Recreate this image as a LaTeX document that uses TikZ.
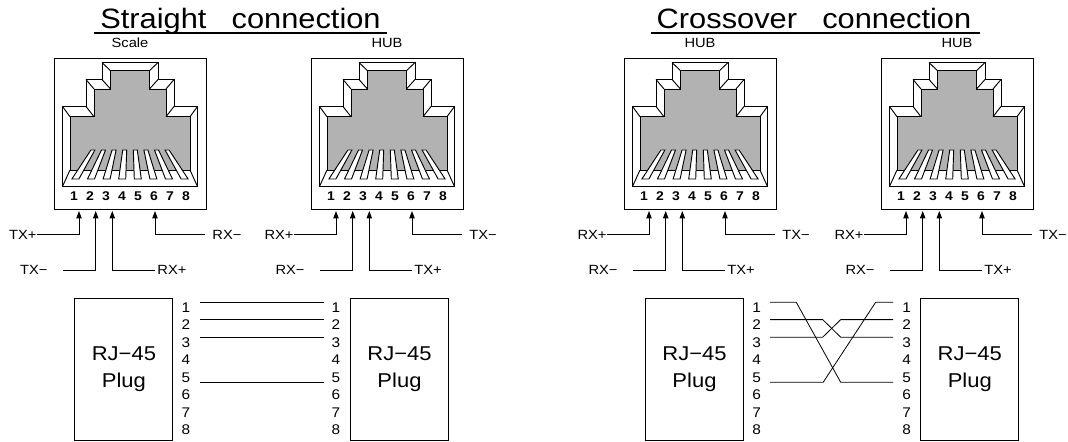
\documentclass[tikz,border=0pt]{standalone}
\usepackage{fontspec}
\setmainfont{Liberation Sans}[FakeStretch=1.1]
\usetikzlibrary{arrows.meta,positioning,calc}
\tikzset{>=latex}

\begin{document}
\begin{tikzpicture}[x=0.75pt,y=-0.75pt,line width=0.7pt,
    tag/.style={inner sep=0,font=\fontsize{10}{11}\selectfont},
    pinno/.style={inner sep=0,anchor=base,font=\fontsize{9.5}{11}\selectfont\bfseries},
    plugno/.style={inner sep=0,anchor=base,font=\fontsize{10.5}{12}\selectfont},
    plug/.style={draw,minimum width=73.5pt,minimum height=106.5pt,align=center,inner sep=0,font=\fontsize{15}{19.7}\selectfont},
    ttl/.style={inner sep=0,anchor=base,font=\fontsize{21}{24}\selectfont},
    uline/.style={line width=1.5pt},
    pinwire/.style={-{Triangle[length=5.5pt,width=4pt]}},
    wire/.style={line width=0.6pt}]
  \useasboundingbox (0,0) rectangle (1068,442);

  % titles
  \node[ttl] (ttlS) at (240.5,28.3) {Straight\hspace{0.9em}connection};
  \draw[uline] ($(ttlS.base west)+(-6,5)$) -- ($(ttlS.base east)+(6,5)$);
  \node[ttl] (ttlC) at (814,28.3) {Crossover\hspace{0.9em}connection};
  \draw[uline] ($(ttlC.base west)+(-5,5)$) -- ($(ttlC.base east)+(8,5)$);

  % jacks
  \foreach \jx/\jn/\pa/\pb/\pc/\pd in {54/Scale/TX+/TX−/RX+/RX−, 311/HUB/RX+/RX−/TX+/TX−,
      624/HUB/RX+/RX−/TX+/TX−, 881/HUB/RX+/RX−/TX+/TX−} {
    \begin{scope}[shift={(\jx,58)}]
      \node[tag] (top) at (76,-15.5) {\jn};
      \draw (0,0) rectangle (152,151);
      \draw[fill=white] (8.5,128.5) -- (8.5,48.5) -- (32,48.5) -- (32,21.5) -- (48,21.5) -- (48,4.5)
        -- (104,4.5) -- (104,21.5) -- (120,21.5) -- (120,48.5) -- (143.5,48.5) -- (143.5,128.5) -- cycle;
      \draw[fill=black!30] (16,112) -- (16,58.7) -- (40,58.7) -- (40,31) -- (56.5,31) -- (56.5,12.7)
        -- (95.5,12.7) -- (95.5,31) -- (112,31) -- (112,58.7) -- (136,58.7) -- (136,112) -- cycle;
      \draw (8.5,48.5) -- (16,58.7) (32,48.5) -- (40,58.7) (32,21.5) -- (40,31)
        (48,21.5) -- (56.5,31) (48,4.5) -- (56.5,12.7) (104,4.5) -- (95.5,12.7)
        (104,21.5) -- (95.5,31) (120,21.5) -- (112,31) (120,48.5) -- (112,58.7)
        (143.5,48.5) -- (136,58.7) (16,112) -- (8.5,128.5) (136,112) -- (143.5,128.5);
      \foreach \i in {1,...,8} {
        \pgfmathsetmacro\ct{76+(\i-4.5)*10.6}
        \pgfmathsetmacro\cb{76+(\i-4.5)*15.6}
        \draw[fill=white] ({\ct-2},92) -- ({\ct+2},92) -- ({\cb+3.5},121) -- ({\cb-3.5},121) -- cycle;
        \node[pinno] (n\i) at ({76+(\i-4.5)*16},143) {\i};
      }
      \coordinate (p1) at (25,153);
      \coordinate (p2) at (41.7,153);
      \coordinate (p3) at (58.3,153);
      \coordinate (p6) at (101,153);
      \node[tag,anchor=east] (w1) at (-17,176.5) {\pa};
      \node[tag,anchor=east] (w2) at (-6,212) {\pb};
      \node[tag,anchor=west] (w3) at (103,212) {\pc};
      \node[tag,anchor=west] (w6) at (158,176.5) {\pd};
      \draw[pinwire] (w1.east) -| (p1);
      \draw[pinwire] ($(w2.east)+(15,0)$) -| (p2);
      \draw[pinwire] ($(w3.west)+(-2.5,0)$) -| (p3);
      \draw[pinwire] ($(w6.west)+(-7,0)$) -| (p6);
    \end{scope}
  }

  % plugs
  \node[plug] (plugSL) at (123.9,369.2) {RJ−45\\Plug};
  \node[plug] (plugSR) at (399.5,369.2) {RJ−45\\Plug};
  \node[plug] (plugCL) at (694.5,369.2) {RJ−45\\Plug};
  \node[plug] (plugCR) at (969.8,369.2) {RJ−45\\Plug};
  \foreach \i in {1,...,8} {
    \node[plugno] (sl\i) at (186,{312+(\i-1)*17.5}) {\i};
    \node[plugno] (sr\i) at (336,{312+(\i-1)*17.5}) {\i};
    \node[plugno] (cl\i) at (756.7,{312+(\i-1)*17.5}) {\i};
    \node[plugno] (cr\i) at (906.7,{312+(\i-1)*17.5}) {\i};
  }

  % straight wires
  \foreach \k/\dy in {1/-5, 2/-5, 3/-5, 5/5}
    \draw[wire] ($(sl\k)+(14,\dy)$) -- ($(sr\k)+(-12,\dy)$);

  % crossover wires
  \draw[wire] ($(cl1)+(13.5,-5)$) -- ++(26,0) -- ($(cr5)+(-66,5)$) -- ($(cr5)+(-13.5,5)$);
  \draw[wire] ($(cl2)+(13.5,-5)$) -- ++(52.5,0) -- ($(cr3)+(-66,-5)$) -- ($(cr3)+(-13.5,-5)$);
  \draw[wire] ($(cl3)+(13.5,-5)$) -- ++(52.5,0) -- ($(cr2)+(-66,-5)$) -- ($(cr2)+(-13.5,-5)$);
  \draw[wire] ($(cl5)+(13.5,5)$) -- ++(53,0) -- ($(cr1)+(-31,-5)$) -- ($(cr1)+(-13.5,-5)$);
\end{tikzpicture}
\end{document}
